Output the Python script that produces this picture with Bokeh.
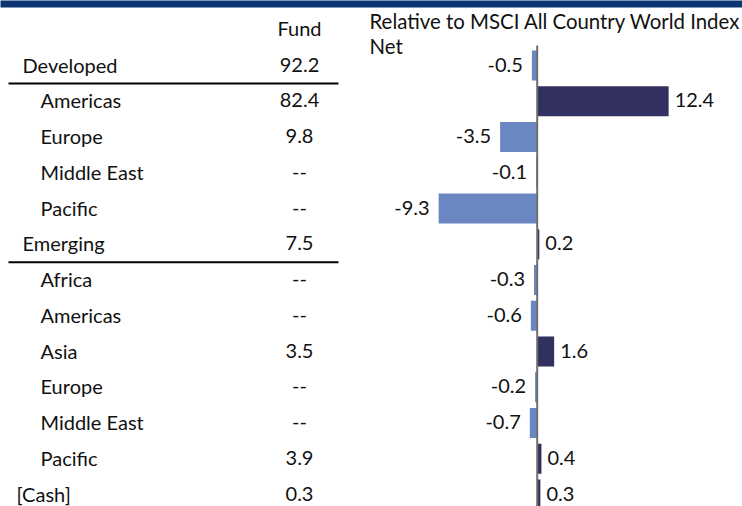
from bokeh.plotting import figure
from bokeh.models import Range1d, Label, ColumnDataSource
from bokeh.embed import file_html
from bokeh.resources import INLINE
from bokeh.core.properties import value

# ---- data ----
regions = ["Developed", "Americas", "Europe", "Middle East", "Pacific",
           "Emerging", "Africa", "Americas", "Asia", "Europe", "Middle East",
           "Pacific", "[Cash]"]
levels = ["group", "sub", "sub", "sub", "sub",
          "group", "sub", "sub", "sub", "sub", "sub",
          "sub", "other"]
fund_values = ["92.2", "82.4", "9.8", "--", "--", "7.5", "--", "--", "3.5",
               "--", "--", "3.9", "0.3"]
relative = [-0.5, 12.4, -3.5, -0.1, -9.3, 0.2, -0.3, -0.6, 1.6, -0.2, -0.7,
            0.4, 0.3]
fund_header = "Fund"
chart_title = ["Relative to MSCI All Country World Index", "Net"]

# ---- style ----
FONT = "Lato"
FS = "20px"
FS_TITLE = "20.4px"
NAVY = "#0b3473"
POS = "#31305f"
NEG = "#6b87c3"
ZERO = "#6e6e6e"
TXT = "#111111"

W, H = 742, 506
TOP_BAND = 7
ROW_PX = 35.75
ROW0_PX = 65.0
BASE_OFF = -1.0
LABEL_SHIFT = 7.5
PX_PER_UNIT = 10.6
ZERO_PX = 536.7

n = len(regions)
rows = list(range(n))
y_top = -ROW0_PX / ROW_PX
y_bottom = (H - ROW0_PX) / ROW_PX
y_band = (TOP_BAND - ROW0_PX) / ROW_PX
yr = Range1d(start=y_bottom, end=y_top)
xr = Range1d(-ZERO_PX / PX_PER_UNIT, (W - ZERO_PX) / PX_PER_UNIT)

p = figure(width=W, height=H, x_range=xr, y_range=yr,
           output_backend="svg", toolbar_location=None, tools="",
           x_axis_location=None, y_axis_location=None)
p.extra_x_ranges = {"table": Range1d(0, W)}
p.grid.visible = False
p.outline_line_color = None
p.min_border = 0
p.border_fill_color = "white"
p.background_fill_color = "white"

# top band
p.quad(left=[-10], right=[W + 10], top=[y_top - 1], bottom=[y_band],
       fill_color=NAVY, line_color=None, x_range_name="table")

# ---- left table ----
indent = {"group": 22, "sub": 40, "other": 16}
src_t = ColumnDataSource(dict(
    y=rows, name=regions, x=[indent[l] for l in levels], fund=fund_values,
    fx=[299] * n))
p.text(x="x", y="y", text="name", source=src_t, text_font=value(FONT),
       text_font_size=FS, text_color=TXT, text_baseline="alphabetic",
       text_align="left", y_offset=BASE_OFF, x_range_name="table")
p.text(x="fx", y="y", text="fund", source=src_t, text_font=value(FONT),
       text_font_size=FS, text_color=TXT, text_baseline="alphabetic",
       text_align="center", y_offset=BASE_OFF, x_range_name="table")
sep_y = [i + 0.5 for i, l in enumerate(levels) if l == "group"]
p.segment(x0=[8] * len(sep_y), x1=[338] * len(sep_y), y0=sep_y, y1=sep_y,
          line_color="black", line_width=2, x_range_name="table")
p.add_layout(Label(x=299, y=H - 35 + LABEL_SHIFT, x_units="screen",
                   y_units="screen", text=fund_header, text_font=FONT,
                   text_font_size=FS, text_color=TXT, text_align="center",
                   text_baseline="alphabetic"))

# ---- right bars ----
colors = [POS if v >= 0 else NEG for v in relative]
src_b = ColumnDataSource(dict(y=rows, v=relative, c=colors))
p.hbar(y="y", left=0, right="v", height=0.84, fill_color="c",
       line_color=None, source=src_b)
p.segment(x0=[0], x1=[0], y0=[-0.56], y1=[y_bottom], line_color=ZERO,
          line_width=2)
pos_idx = [i for i, v in enumerate(relative) if v >= 0]
neg_idx = [i for i, v in enumerate(relative) if v < 0]
src_p = ColumnDataSource(dict(y=[rows[i] for i in pos_idx],
                              v=[relative[i] for i in pos_idx],
                              lab=[f"{relative[i]:.1f}" for i in pos_idx]))
src_n = ColumnDataSource(dict(y=[rows[i] for i in neg_idx],
                              v=[relative[i] for i in neg_idx],
                              lab=[f"{relative[i]:.1f}" for i in neg_idx]))
p.text(x="v", y="y", text="lab", source=src_p, text_font=value(FONT),
       text_font_size=FS, text_color=TXT, text_align="left",
       text_baseline="alphabetic", x_offset=6, y_offset=BASE_OFF)
p.text(x="v", y="y", text="lab", source=src_n, text_font=value(FONT),
       text_font_size=FS, text_color=TXT, text_align="right",
       text_baseline="alphabetic", x_offset=-9, y_offset=BASE_OFF)
for k, line in enumerate(chart_title):
    p.add_layout(Label(x=369, y=H - 28 - 25 * k + LABEL_SHIFT,
                       x_units="screen", y_units="screen", text=line,
                       text_font=FONT, text_font_size=FS_TITLE,
                       text_color=TXT, text_align="left",
                       text_baseline="alphabetic"))

p.styles = {"position": "absolute", "left": "0px", "top": "0px"}
open("out.html", "w").write(file_html(p, INLINE))
